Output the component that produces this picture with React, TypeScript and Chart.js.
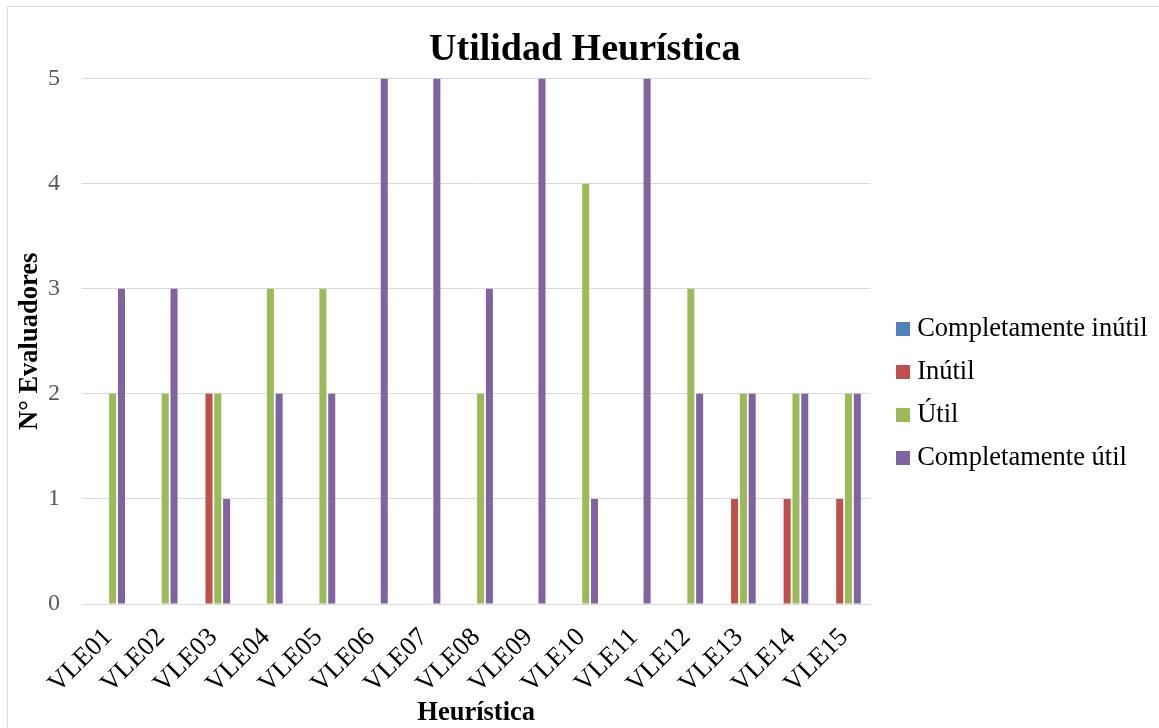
import React, { useEffect, useRef } from "react";
import { Chart, registerables } from "chart.js";

Chart.register(...registerables);

const categories = ["VLE01","VLE02","VLE03","VLE04","VLE05","VLE06","VLE07","VLE08","VLE09","VLE10","VLE11","VLE12","VLE13","VLE14","VLE15"];
const completamenteInutil = [0,0,0,0,0,0,0,0,0,0,0,0,0,0,0];
const inutil = [0,0,2,0,0,0,0,0,0,0,0,0,1,1,1];
const util = [2,2,2,3,3,0,0,2,0,4,0,3,2,2,2];
const completamenteUtil = [3,3,1,2,2,5,5,3,5,1,5,2,2,2,2];
const seriesNames = ["Completamente inútil", "Inútil", "Útil", "Completamente útil"];
const seriesColors = ["#4F81BD", "#C0504D", "#9BBB59", "#8064A2"];
const yTicks = [0,1,2,3,4,5];

const FONT = "'Liberation Serif', 'Times New Roman', serif";

function swatch(color: string) {
  const c = document.createElement("canvas");
  c.width = 14;
  c.height = 14;
  const g = c.getContext("2d")!;
  g.fillStyle = color;
  g.fillRect(0, 0, 14, 14);
  return c;
}

export default function App() {
  const ref = useRef<HTMLCanvasElement | null>(null);
  useEffect(() => {
    document.body.style.margin = "0";
    document.body.style.overflow = "hidden";
    const ctx = ref.current!;
    const swatches = seriesColors.map(swatch);
    const values = [completamenteInutil, inutil, util, completamenteUtil];
    const chart = new Chart(ctx, {
      type: "bar",
      data: {
        labels: categories,
        datasets: seriesNames.map((name, i) => ({
          label: name,
          data: values[i],
          backgroundColor: seriesColors[i],
          borderWidth: 0,
          barPercentage: 0.8,
          categoryPercentage: 0.67,
        })),
      },
      options: {
        animation: false,
        responsive: false,
        maintainAspectRatio: false,
        layout: { autoPadding: false, padding: { left: 4, right: 1.5, top: 0, bottom: 0 } },
        plugins: {
          tooltip: { enabled: false },
          title: {
            display: true,
            text: "Utilidad Heurística",
            color: "#000",
            font: { family: FONT, size: 38, weight: "bold" },
            padding: { top: 20, bottom: 6 },
          },
          legend: {
            position: "right",
            labels: {
              color: "#000",
              font: { family: FONT, size: 26.5 },
              usePointStyle: true,
              pointStyleWidth: 1,
              boxHeight: 14,
              padding: 16.5,
              generateLabels: (ch: any) => {
                const items = (Chart.defaults as any).plugins.legend.labels.generateLabels(ch);
                items.forEach((it: any, i: number) => { it.pointStyle = swatches[i]; });
                return items;
              },
            },
          },
        },
        scales: {
          x: {
            grid: { display: false, drawTicks: false },
            border: { display: true, color: "#d9d9d9", width: 1 },
            ticks: {
              color: "#000",
              font: { family: FONT, size: 26.5 },
              maxRotation: 45,
              minRotation: 45,
              autoSkip: false,
              padding: 18,
            },
            title: {
              display: true,
              text: "Heurística",
              color: "#000",
              font: { family: FONT, size: 26.5, weight: "bold" },
              padding: { top: 0, bottom: -1 },
            },
            afterFit: (s: any) => { s.height = 124; },
          },
          y: {
            min: 0,
            max: 5,
            afterBuildTicks: (axis: any) => {
              axis.ticks = yTicks.map((v) => ({ value: v }));
            },
            grid: { color: "#d9d9d9", drawTicks: false, lineWidth: 1 },
            border: { display: false },
            ticks: {
              color: "#595959",
              font: { family: FONT, size: 24 },
              padding: 22,
            },
            title: {
              display: true,
              text: "N° Evaluadores",
              color: "#000",
              font: { family: FONT, size: 26.5, weight: "bold" },
              padding: { top: 2, bottom: 4 },
            },
            afterFit: (s: any) => { s.width = 70; },
          },
        },
      },
    } as any);
    const lg: any = (chart as any).legend;
    const EXTRA = 16;
    const DY = 26;
    const origFit = lg.fit.bind(lg);
    lg.fit = function () { origFit(); lg.width += EXTRA; };
    const origDraw = lg.draw.bind(lg);
    lg.draw = function () {
      const c = chart.ctx;
      c.save();
      c.translate(EXTRA, DY);
      origDraw();
      c.restore();
    };
    chart.update();
    return () => chart.destroy();
  }, []);
  return (
    <>
      <div style={{ position: "absolute", left: 7, top: 6, width: 1200, height: 800, border: "1px solid #d9d9d9", background: "#fff", boxSizing: "border-box" }} />
      <canvas ref={ref} width={1151} height={721} style={{ display: "block", position: "absolute", left: 8, top: 7 }} />
    </>
  );
}
